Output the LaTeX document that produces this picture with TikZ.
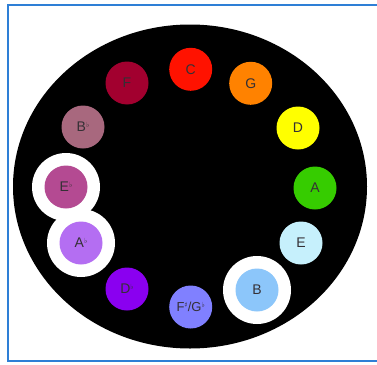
\documentclass[tikz,border=0pt]{standalone}
\usepackage{fontspec}
\setmainfont{Liberation Sans}
\newfontfamily\symfont{DejaVu Sans}
\definecolor{frameblue}{HTML}{2E7FD6}
\definecolor{cC}{HTML}{FF1200}
\definecolor{cG}{HTML}{FF8200}
\definecolor{cD}{HTML}{FFFF00}
\definecolor{cA}{HTML}{36CC00}
\definecolor{cE}{HTML}{C6F0FC}
\definecolor{cB}{HTML}{8CC6FA}
\definecolor{cFs}{HTML}{8080FF}
\definecolor{cDb}{HTML}{8A00F0}
\definecolor{cAb}{HTML}{B46EF2}
\definecolor{cEb}{HTML}{B44A92}
\definecolor{cBb}{HTML}{A8687E}
\definecolor{cF}{HTML}{A2002F}
\definecolor{labelgray}{HTML}{353035}
\newcommand{\flt}{\raisebox{4.5pt}{\symfont\fontsize{7}{7}\selectfont ♭}}
\newcommand{\shp}{\raisebox{4.5pt}{\symfont\fontsize{7}{7}\selectfont ♯}}
\tikzset{
  note/.style={circle, minimum size=43pt, inner sep=0pt, text=labelgray, font=\fontsize{14}{14}\selectfont},
  ring/.style={circle, fill=white, minimum size=68pt, inner sep=0pt}
}
\begin{document}
\begin{tikzpicture}[x=1pt,y=-1pt]
\useasboundingbox (0,0) rectangle (377,364);
\fill[white] (0,0) rectangle (377,364);
\draw[frameblue, line width=2pt] (377,5) -- (7.5,5) -- (7.5,361) -- (377,361);
\fill[black] (190,186.5) ellipse [x radius=177, y radius=162];
% white rings
\node[ring] (rEb) at (66,187) {};
\node[ring] (rAb) at (81,243) {};
\node[ring] (rB) at (257,290) {};
% notes
\node[note, fill=cC] (C) at (190.7,69.3) {C};
\node[note, fill=cG] (G) at (250.7,83.3) {G};
\node[note, fill=cD] (D) at (298,128) {D};
\node[note, fill=cA] (A) at (315,188) {A};
\node[note, fill=cE] (E) at (301,243) {E};
\node[note, fill=cB] (B) at (257,290) {B};
\node[note, fill=cFs, font=\fontsize{13}{13}\selectfont] (Fs) at (190.7,307) {F\shp/G\flt};
\node[note, fill=cDb] (Db) at (127,289) {D\flt};
\node[note, fill=cAb] (Ab) at (81,243) {A\flt};
\node[note, fill=cEb] (Eb) at (66,187) {E\flt};
\node[note, fill=cBb] (Bb) at (83,127) {B\flt};
\node[note, fill=cF] (F) at (127,83) {F};
\end{tikzpicture}
\end{document}
